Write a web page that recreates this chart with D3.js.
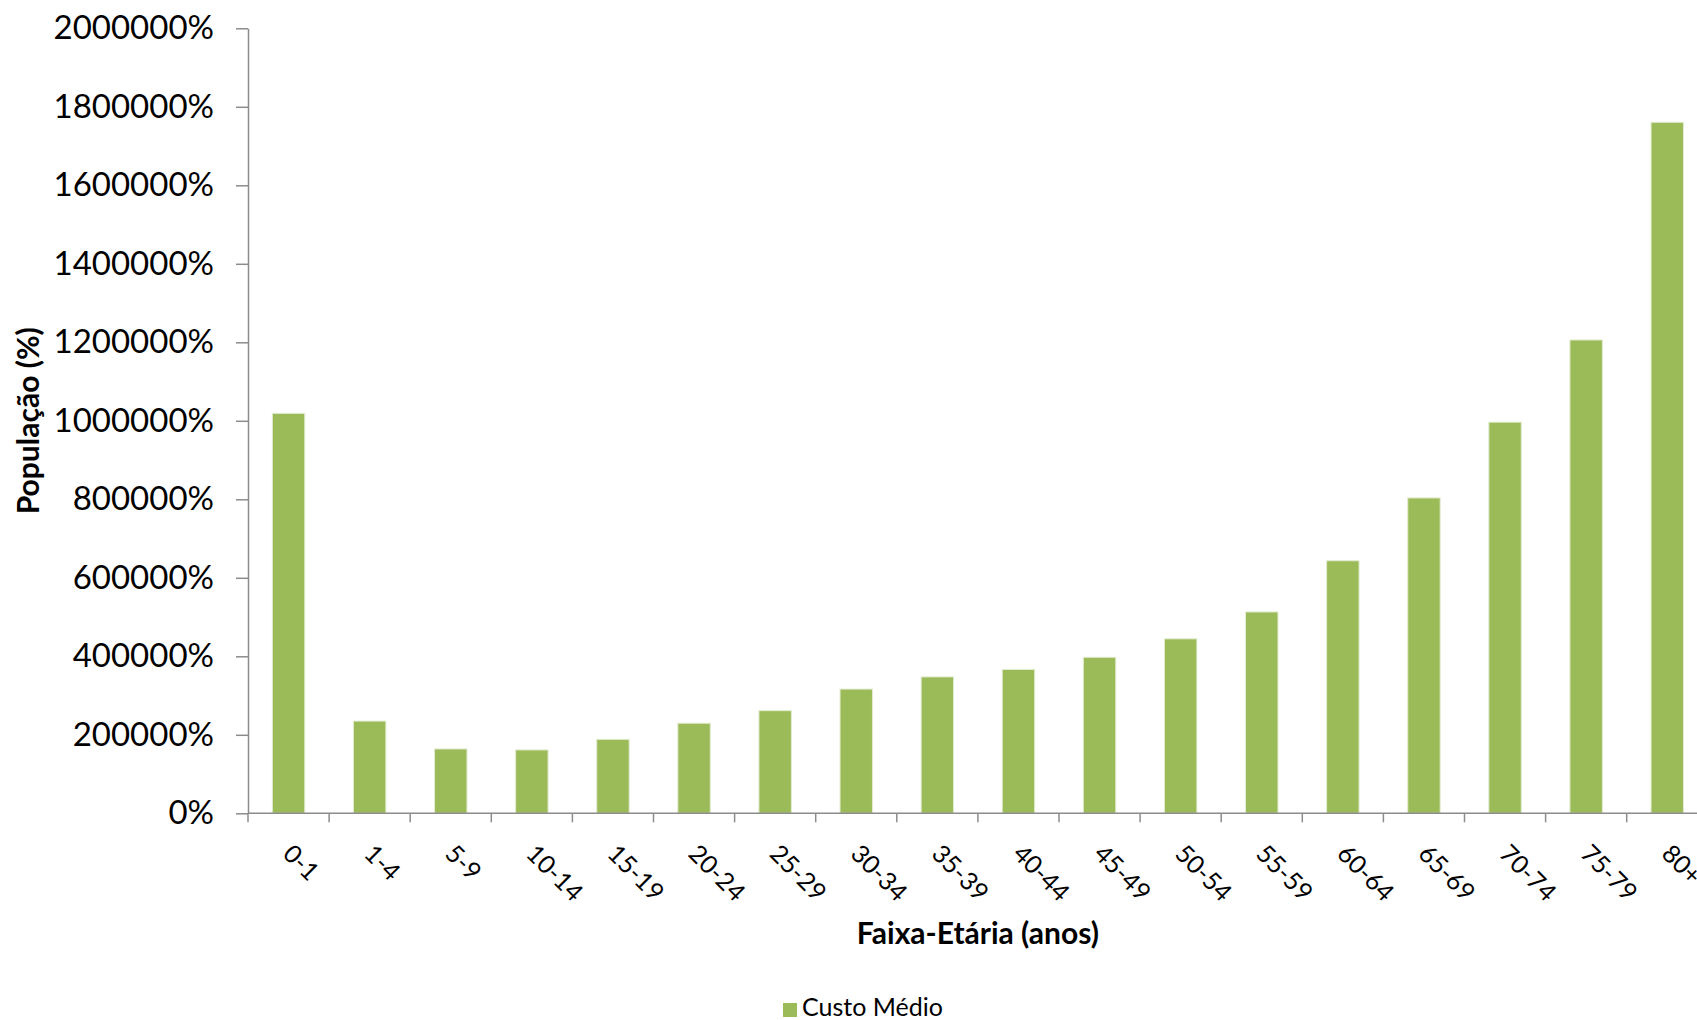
<!DOCTYPE html>
<html>
<head>
<meta charset="utf-8">
<script src="https://cdn.jsdelivr.net/npm/d3@7"></script>
<style>
  body { margin: 0; background: #fff; overflow: hidden; }
  svg { display: block; font-family: Lato, "Liberation Sans", sans-serif; }
  .axis path, .axis line { stroke: #8c8c8c; stroke-width: 1.5; }
</style>
</head>
<body>
<svg id="chart" width="1697" height="1020"></svg>
<script>
// faixas etárias e valores
var categories = ['0-1', '1-4', '5-9', '10-14', '15-19', '20-24', '25-29', '30-34', '35-39',
                  '40-44', '45-49', '50-54', '55-59', '60-64', '65-69', '70-74', '75-79', '80+'];
var values = [1019000, 235000, 164000, 161500, 188500, 229500, 261500, 316500, 347500,
              366500, 397500, 444500, 513000, 643500, 803500, 996500, 1206000, 1760500];
var yTicks = [0, 200000, 400000, 600000, 800000, 1000000, 1200000, 1400000, 1600000, 1800000, 2000000];
var seriesName = 'Custo Médio';

var svg = d3.select('#chart');
var plotLeft = 248, plotTop = 28.3, plotBottom = 813.3, step = 81.1;
var plotRight = plotLeft + categories.length * step; // plot runs past the window edge

var x = d3.scaleBand().domain(categories).range([plotLeft, plotRight]).padding(0);
var y = d3.scaleLinear().domain([0, 2000000]).range([plotBottom, plotTop]);

// bars
svg.append('g').selectAll('rect')
  .data(values)
  .enter().append('rect')
  .attr('x', function(d, i) { return x(categories[i]) + step * 0.3; })
  .attr('y', function(d) { return y(d); })
  .attr('width', step * 0.4)
  .attr('height', function(d) { return plotBottom - y(d); })
  .attr('fill', '#9bbb59')
  .attr('stroke', '#e3ecd1')
  .attr('stroke-width', 1);

// y axis
var gy = svg.append('g')
  .attr('class', 'axis')
  .attr('transform', 'translate(' + plotLeft + ',0)')
  .call(d3.axisLeft(y).tickValues(yTicks).tickFormat(function(d) { return d + '%'; })
        .tickSize(12).tickSizeOuter(0).tickPadding(22));
gy.selectAll('text').attr('font-size', 33).attr('fill', '#000').attr('font-family', 'Lato');

// x axis: line + boundary ticks
var gx = svg.append('g').attr('class', 'axis');
gx.append('line')
  .attr('x1', plotLeft).attr('x2', plotRight)
  .attr('y1', plotBottom).attr('y2', plotBottom);
gx.selectAll('.tick')
  .data(categories.concat(['end']))
  .enter().append('line')
  .attr('x1', function(d, i) { return plotLeft + i * x.step(); })
  .attr('x2', function(d, i) { return plotLeft + i * x.step(); })
  .attr('y1', plotBottom).attr('y2', plotBottom + 9);

svg.append('g').selectAll('text')
  .data(categories)
  .enter().append('text')
  .attr('transform', function(d) {
    return 'translate(' + (x(d) + x.bandwidth() / 2 - 7) + ',' + (plotBottom + 42) + ') rotate(45)';
  })
  .attr('text-anchor', 'start')
  .attr('font-size', 25)
  .text(function(d) { return d; });

// axis titles
svg.append('text')
  .attr('x', (plotLeft + plotRight) / 2)
  .attr('y', 944)
  .attr('text-anchor', 'middle')
  .attr('font-size', 30)
  .attr('font-weight', 'bold')
  .text('Faixa-Etária (anos)');

svg.append('text')
  .attr('transform', 'translate(39,' + (plotTop + plotBottom) / 2 + ') rotate(-90)')
  .attr('text-anchor', 'middle')
  .attr('font-size', 30)
  .attr('font-weight', 'bold')
  .text('População (%)');

// legend
var legend = svg.append('g').attr('transform', 'translate(783,1003)');
legend.append('rect').attr('width', 14).attr('height', 14).attr('fill', '#9bbb59');
legend.append('text').attr('x', 19).attr('y', 13).attr('font-size', 25).text(seriesName);
</script>
</body>
</html>
